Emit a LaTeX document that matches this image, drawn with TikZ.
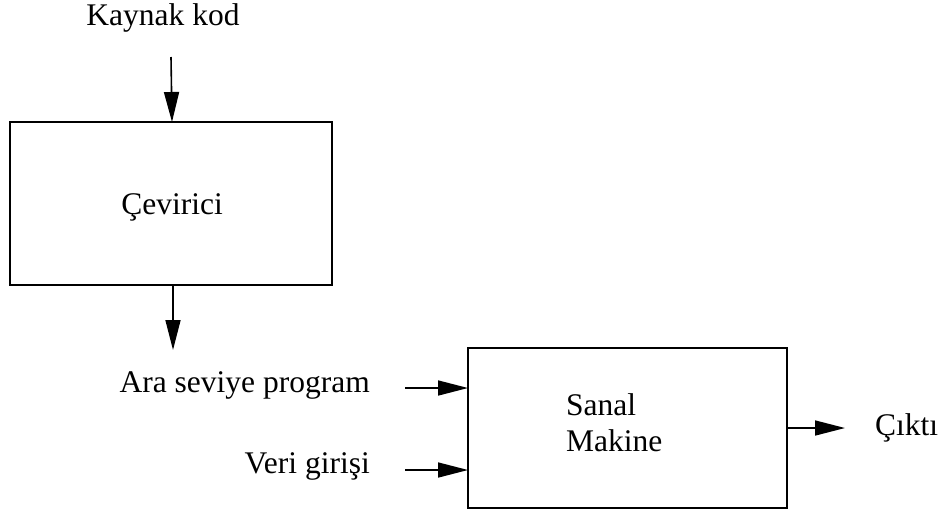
\documentclass[tikz,border=0pt]{standalone}
\usepackage{fontspec}
\setmainfont{Liberation Serif}
\usetikzlibrary{arrows.meta}
\begin{document}
\begin{tikzpicture}[x=1pt,y=-1pt,
  box/.style={draw,line width=1.6pt},
  lbl/.style={font=\fontsize{31.5}{35}\selectfont,inner sep=0pt},
  arr/.style={line width=1.6pt,-{Triangle[length=30pt,width=15pt]}}]
\useasboundingbox (0,0) rectangle (941,515);
\draw[box] (10,122) rectangle (332,285);
\coordinate (cevtop) at (172,122);
\coordinate (cevbot) at (173,285);
\node[lbl] (cev) at (172,207) {Çevirici};
\node[lbl] (kaynak) at (163,18) {Kaynak kod};
\coordinate (a1s) at (171,57);
\draw[arr] (a1s) -- (cevtop);
\coordinate (a2e) at (173,350);
\draw[arr] (cevbot) -- (a2e);
\draw[box] (468,348) rectangle (787,508);
\node[lbl,anchor=east] (ara) at (370,385) {Ara seviye program};
\node[lbl,anchor=east] (veri) at (370,466) {Veri girişi};
\coordinate (a3s) at (405,388);
\coordinate (a3e) at (468,388);
\coordinate (a4s) at (405,470);
\coordinate (a4e) at (468,470);
\draw[arr] (a3s) -- (a3e);
\draw[arr] (a4s) -- (a4e);
\node[lbl,align=left,anchor=west] (sanal) at (566,423) {Sanal\\[1pt]Makine};
\coordinate (a5s) at (787,428);
\coordinate (a5e) at (845,428);
\draw[arr] (a5s) -- (a5e);
\node[lbl,anchor=west] (cikti) at (875,428) {Çıktı};
\end{tikzpicture}
\end{document}
